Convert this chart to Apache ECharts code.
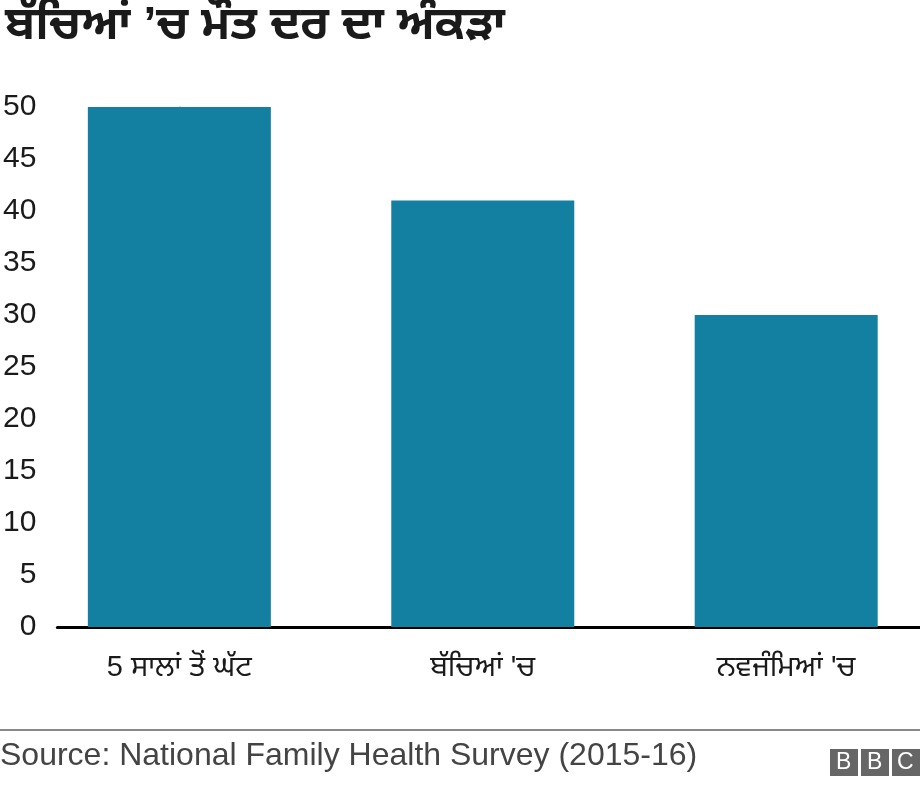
<!DOCTYPE html>
<html>
<head>
<meta charset="utf-8">
<script src="https://cdn.jsdelivr.net/npm/echarts@6/dist/echarts.min.js"></script>
<style>
html,body{margin:0;padding:0;background:#fff;}
#chart{width:920px;height:786px;}
</style>
</head>
<body>
<div id="chart"></div>
<script>
const titleText = "ਬੱਚਿਆਂ ’ਚ ਮੌਤ ਦਰ ਦਾ ਅੰਕੜਾ";
const sourceText = "Source: National Family Health Survey (2015-16)";
const categories = ["5 ਸਾਲਾਂ ਤੋਂ ਘੱਟ", "ਬੱਚਿਆਂ 'ਚ", "ਨਵਜੰਮਿਆਂ 'ਚ"];
const values = [50, 41, 30];
const yTicks = [0, 5, 10, 15, 20, 25, 30, 35, 40, 45, 50];

const FONT = "'Liberation Sans', Arial, 'Noto Sans Gurmukhi', 'Noto Sans', sans-serif";
const chart = echarts.init(document.getElementById('chart'), null, {renderer: 'canvas'});

chart.setOption({
  animation: false,
  backgroundColor: '#fff',
  textStyle: {fontFamily: FONT},
  title: {
    text: titleText,
    left: 0, top: -2,
    textStyle: {fontFamily: FONT, fontSize: 46, fontWeight: 'bold', color: '#1a1a1a'}
  },
  grid: {left: 57, right: 0, top: 107, bottom: 159, containLabel: false},
  xAxis: {
    type: 'value',
    min: -0.402, max: 2.441,
    splitLine: {show: false},
    axisTick: {show: false, customValues: [0, 1, 2]},
    axisLine: {show: true, lineStyle: {color: '#000', width: 3}},
    axisLabel: {
      customValues: [0, 1, 2],
      formatter: v => categories[Math.round(v)],
      fontSize: 29, color: '#1a1a1a', margin: 26, fontFamily: FONT
    }
  },
  yAxis: {
    type: 'value',
    min: 0, max: 50, interval: 5,
    splitLine: {show: false},
    axisTick: {show: false},
    axisLine: {show: true, lineStyle: {color: '#cccccc', width: 2}},
    axisLabel: {
      fontSize: 30, color: '#1a1a1a', margin: 21, fontFamily: FONT,
      formatter: v => yTicks.includes(v) ? String(v) : ''
    }
  },
  series: [{
    type: 'bar',
    barWidth: 183,
    itemStyle: {color: '#1380A1'},
    data: values.map((v, i) => [i, v]),
    z: 1
  }],
  graphic: [
    {type: 'rect', left: 0, top: 729, shape: {width: 920, height: 2}, style: {fill: '#888'}},
    {type: 'text', left: 0, top: 740, style: {text: sourceText, fontSize: 32, fill: '#444', fontFamily: FONT}},
    {type: 'group', right: 0, top: 749, children: [
      {type: 'rect', left: 0, top: 0, shape: {width: 28, height: 27}, style: {fill: '#666'}},
      {type: 'text', left: 6, top: 2, style: {text: 'B', fontSize: 23, fill: '#fff', fontFamily: FONT}},
      {type: 'rect', left: 31, top: 0, shape: {width: 28, height: 27}, style: {fill: '#666'}},
      {type: 'text', left: 37, top: 2, style: {text: 'B', fontSize: 23, fill: '#fff', fontFamily: FONT}},
      {type: 'rect', left: 62, top: 0, shape: {width: 28, height: 27}, style: {fill: '#666'}},
      {type: 'text', left: 67, top: 2, style: {text: 'C', fontSize: 23, fill: '#fff', fontFamily: FONT}}
    ]}
  ]
});
</script>
</body>
</html>
